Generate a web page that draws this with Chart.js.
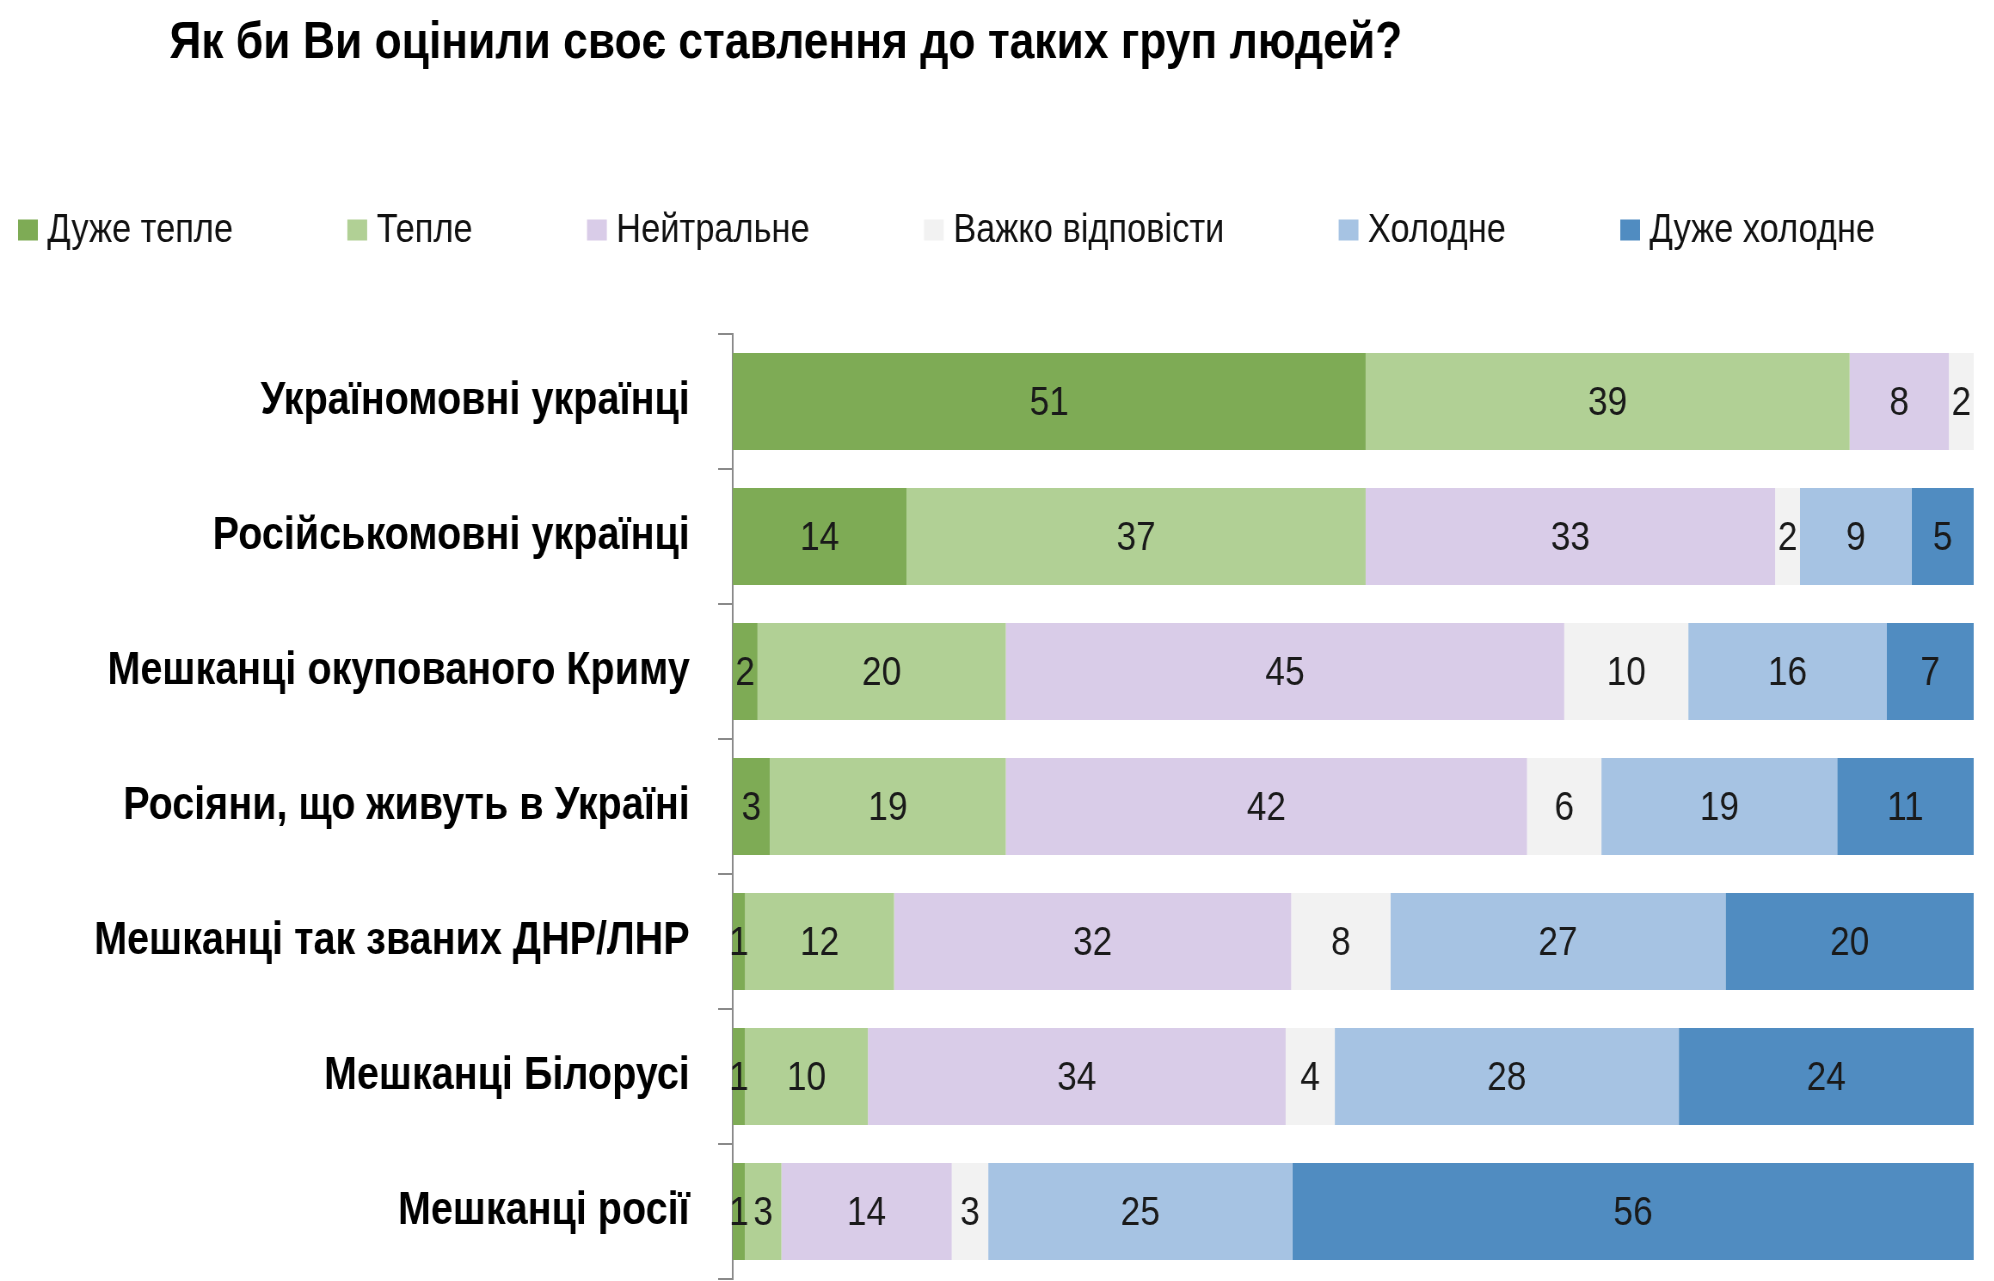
<!DOCTYPE html>
<html>
<head>
<meta charset="utf-8">
<script src="https://cdn.jsdelivr.net/npm/chart.js@4.4.1/dist/chart.umd.min.js"></script>
<style>
html,body{margin:0;padding:0;background:#fff;overflow:hidden;width:1994px;height:1281px;}
#wrap{width:1994px;height:1281px;overflow:hidden;position:relative;background:#fff;}
#c{position:absolute;left:0;top:0;transform:scaleX(0.86);transform-origin:0 0;}
</style>
</head>
<body>
<div id="wrap"><canvas id="c" width="2319" height="1281" style="width:2319px;height:1281px"></canvas></div>
<script>
// ---- data ----
const titleText = 'Як би Ви оцінили своє ставлення до таких груп людей?';
const categories = [
  'Україномовні українці',
  'Російськомовні українці',
  'Мешканці окупованого Криму',
  'Росіяни, що живуть в Україні',
  'Мешканці так званих ДНР/ЛНР',
  'Мешканці Білорусі',
  'Мешканці росії'
];
const seriesNames = ['Дуже тепле', 'Тепле', 'Нейтральне', 'Важко відповісти', 'Холодне', 'Дуже холодне'];
const veryWarm  = [51, 14,  2,  3,  1,  1,  1];
const warm      = [39, 37, 20, 19, 12, 10,  3];
const neutral   = [ 8, 33, 45, 42, 32, 34, 14];
const hardToSay = [ 2,  2, 10,  6,  8,  4,  3];
const cold      = [ 0,  9, 16, 19, 27, 28, 25];
const veryCold  = [ 0,  5,  7, 11, 20, 24, 56];

// ---- styles ----
const seriesColors = ['#7eab55', '#b1d095', '#d9cce8', '#f2f2f2', '#a6c3e3', '#508cc1'];
const FONT = '"Liberation Sans", Arial, sans-serif';

const allSeries = [veryWarm, warm, neutral, hardToSay, cold, veryCold];
const rowTotals = categories.map((_, i) => allSeries.reduce((s, arr) => s + arr[i], 0));

const datasets = allSeries.map((arr, k) => ({
  label: seriesNames[k],
  rawValues: arr,
  data: arr.map((v, i) => v / rowTotals[i] * 100),
  backgroundColor: seriesColors[k],
  borderWidth: 0,
  barPercentage: 1.0,
  categoryPercentage: 0.72
}));

const headerPlugin = {
  id: 'header',
  afterDraw(chart) {
    const ctx = chart.ctx;
    ctx.save();
    // title
    ctx.fillStyle = '#000';
    ctx.font = 'bold 51.6px ' + FONT;
    ctx.textAlign = 'left';
    ctx.textBaseline = 'alphabetic';
    ctx.fillText(titleText, 197, 58);
    // legend
    ctx.font = '40px ' + FONT;
    ctx.textBaseline = 'middle';
    const y = 230;
    const box = 23, boxH = 21, gapText = 11, gapItem = 133;
    let x = 21;
    chart.data.datasets.forEach(ds => {
      ctx.fillStyle = ds.backgroundColor;
      ctx.fillRect(x, y - boxH / 2, box, boxH);
      ctx.fillStyle = '#111';
      const tx = x + box + gapText;
      ctx.fillText(ds.label, tx, y + 1);
      x = tx + ctx.measureText(ds.label).width + gapItem;
    });
    ctx.restore();
  }
};

const valueLabels = {
  id: 'valueLabels',
  afterDatasetsDraw(chart) {
    const ctx = chart.ctx;
    ctx.save();
    ctx.font = '41px ' + FONT;
    ctx.fillStyle = '#1a1a1a';
    ctx.textAlign = 'center';
    ctx.textBaseline = 'middle';
    chart.data.datasets.forEach((ds, di) => {
      const meta = chart.getDatasetMeta(di);
      meta.data.forEach((el, i) => {
        const v = ds.rawValues[i];
        if (!v) return;
        const p = el.getProps(['x', 'y', 'base'], true);
        ctx.fillText(String(v), (p.x + p.base) / 2, p.y + 2);
      });
    });
    ctx.restore();
  }
};

new Chart(document.getElementById('c'), {
  type: 'bar',
  data: { labels: categories, datasets },
  options: {
    responsive: false,
    animation: false,
    devicePixelRatio: 1,
    indexAxis: 'y',
    layout: { padding: { top: 334, bottom: 2, left: 0, right: 24 } },
    plugins: {
      legend: { display: false },
      title: { display: false },
      tooltip: { enabled: false }
    },
    scales: {
      x: { stacked: true, min: 0, max: 100, display: false },
      y: {
        stacked: true,
        offset: true,
        grid: { display: true, drawOnChartArea: false, drawTicks: true, tickLength: 17, color: '#8a8a8a', lineWidth: 2, offset: true },
        border: { display: true, color: '#8a8a8a', width: 2 },
        ticks: { color: '#000', autoSkip: false, padding: 33, font: { family: FONT, size: 46, weight: 'bold' } },
        afterFit: (s) => { s.width = 852; s.paddingTop = 0; s.paddingBottom = 0; }
      }
    }
  },
  plugins: [headerPlugin, valueLabels]
});
</script>
</body>
</html>
